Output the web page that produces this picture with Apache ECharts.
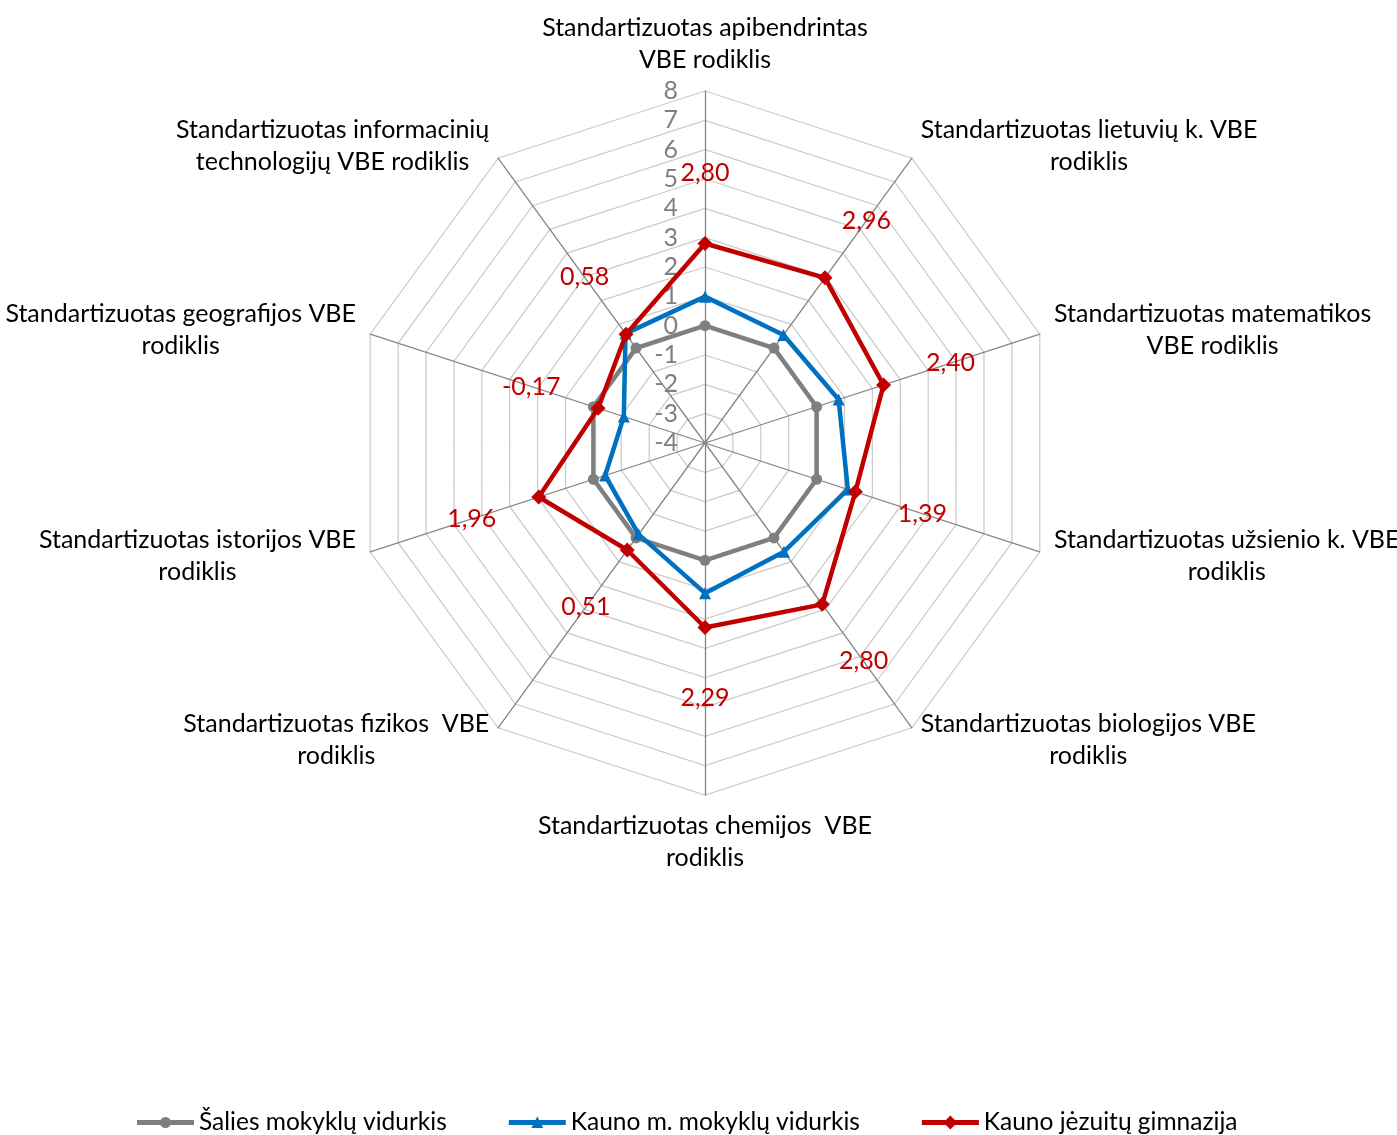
<!DOCTYPE html>
<html><head><meta charset="utf-8">
<script src="https://cdn.jsdelivr.net/npm/echarts@6/dist/echarts.min.js"></script>
<style>html,body{margin:0;padding:0;background:#fff}#c{width:1397px;height:1135px}</style>
</head><body><div id="c"></div>
<script>
const categories = [
  'Standartizuotas apibendrintas\nVBE rodiklis',
  'Standartizuotas lietuvių k. VBE\nrodiklis',
  'Standartizuotas matematikos\nVBE rodiklis',
  'Standartizuotas užsienio k. VBE\nrodiklis',
  'Standartizuotas biologijos VBE\nrodiklis',
  'Standartizuotas chemijos  VBE\nrodiklis',
  'Standartizuotas fizikos  VBE\nrodiklis',
  'Standartizuotas istorijos VBE\nrodiklis',
  'Standartizuotas geografijos VBE\nrodiklis',
  'Standartizuotas informacinių\ntechnologijų VBE rodiklis'
];
const seriesNames = ['Šalies mokyklų vidurkis', 'Kauno m. mokyklų vidurkis', 'Kauno jėzuitų gimnazija'];
const saliesValues = [0, 0, 0, 0, 0, 0, 0, 0, 0, 0];
const kaunoValues = [0.99, 0.55, 0.79, 1.12, 0.58, 1.12, -0.15, -0.42, -1.09, 0.61];
const jezuituValues = [2.80, 2.96, 2.40, 1.39, 2.80, 2.29, 0.51, 1.96, -0.17, 0.58];
const axisMin = -4, axisMax = 8, axisInterval = 1;

const FONT = 'Lato, "Open Sans", sans-serif';
const FS = 25;
const COLORS = ['#7F7F7F', '#0070C0', '#C00000'];
const LABEL_SHIFT = 2.4; // data labels sit outward from the red points

// ECharts radar runs counter-clockwise; reorder so categories run clockwise
const N = categories.length;
const order = categories.map((_, i) => (N - i) % N);
const pick = arr => order.map(i => arr[i]);

const F = 'M0,0h0.01v0.01h-0.01Z M57,14h-0.01v-0.01h0.01Z ';
const icons = [
  'path://' + F + 'M0,4.6H57V9.4H0Z M23,7a5.5,5.5 0 1,1 11,0a5.5,5.5 0 1,1 -11,0Z',
  'path://' + F + 'M0,4.6H57V9.4H0Z M28.5,1L34.5,12.5L22.5,12.5Z',
  'path://' + F + 'M0,4.6H57V9.4H0Z M28.5,0L35.5,7L28.5,14L21.5,7Z'
];

const chart = echarts.init(document.getElementById('c'), null, {renderer: 'canvas'});
const mk = (k, vals, symbol, size) => ({
  type: 'radar', name: seriesNames[k], z: 2 + k,
  symbol: symbol, symbolSize: size,
  itemStyle: {color: COLORS[k]},
  lineStyle: {color: COLORS[k], width: 4.5},
  data: [{name: seriesNames[k], value: pick(vals)}]
});
chart.setOption({
  animation: false,
  textStyle: {fontFamily: FONT},
  legend: {
    top: 1105, left: 132, itemWidth: 57, itemHeight: 14, itemGap: 62,
    textStyle: {fontSize: 24.5, color: '#000', fontFamily: FONT},
    data: seriesNames.map((n, k) => ({name: n, icon: icons[k]}))
  },
  radar: {
    center: [705, 443], radius: 352, startAngle: 90, shape: 'polygon',
    splitNumber: (axisMax - axisMin) / axisInterval,
    indicator: order.map(i => ({name: categories[i], min: axisMin, max: axisMax})),
    nameGap: 15,
    axisName: {
      color: '#000', fontSize: FS, lineHeight: 32, fontFamily: FONT,
      formatter: n => '{c|' + n + '}',
      rich: {c: {align: 'center', fontSize: FS, lineHeight: 32, color: '#000', fontFamily: FONT}}
    },
    axisLine: {lineStyle: {color: '#868686', width: 1.3}},
    splitLine: {lineStyle: {color: '#CCCCCC', width: 1.3}},
    splitArea: {show: false},
    axisTick: {show: false},
    axisLabel: {show: false}
  },
  polar: {center: [705, 443], radius: 352},
  angleAxis: {type: 'value', min: 0, max: 360, startAngle: 90, show: false},
  radiusAxis: {
    type: 'value', min: axisMin, max: axisMax, interval: axisInterval,
    axisLine: {show: false}, axisTick: {show: false}, splitLine: {show: false},
    axisLabel: {color: '#808080', fontSize: FS, margin: 27, fontFamily: FONT}
  },
  series: [
    mk(0, saliesValues, 'circle', 11),
    mk(1, kaunoValues, 'triangle', 12),
    mk(2, jezuituValues, 'diamond', 15),
    {
      type: 'radar', name: 'labels', z: 6, silent: true,
      symbol: 'circle', symbolSize: 1,
      itemStyle: {color: 'rgba(0,0,0,0)'},
      lineStyle: {width: 0, opacity: 0},
      label: {
        show: true, position: 'inside', color: '#C00000', fontSize: FS, fontFamily: FONT,
        formatter: p => (p.value - LABEL_SHIFT).toFixed(2).replace('.', ',')
      },
      data: [{name: 'labels', value: pick(jezuituValues).map(v => v + LABEL_SHIFT)}]
    }
  ]
});
</script></body></html>
